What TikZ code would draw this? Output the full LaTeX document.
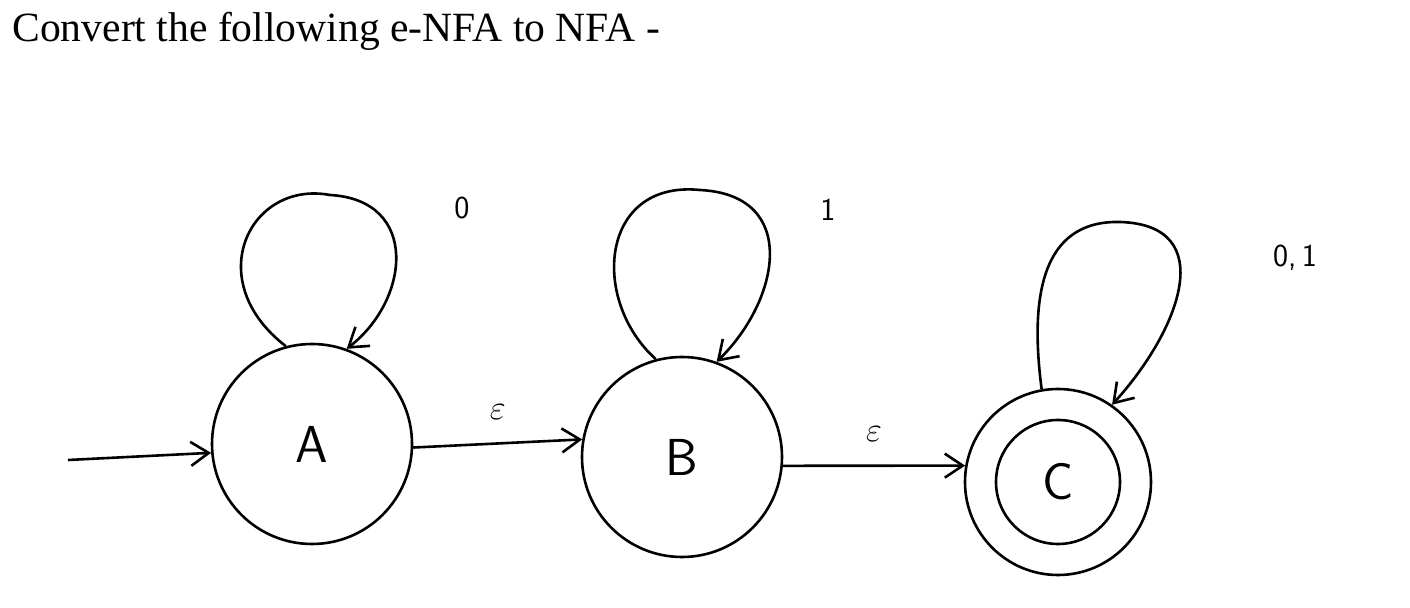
\documentclass[tikz,border=0pt]{standalone}
\usepackage{fontspec}
\setmainfont{Liberation Serif}
\usetikzlibrary{arrows.meta}
\begin{document}
\begin{tikzpicture}[x=0.5pt,y=-0.5pt,
  st/.style={circle,draw,line width=1.3pt,minimum size=100pt,inner sep=0pt,font=\fontsize{26}{30}\selectfont\sffamily},
  ed/.style={line width=1.3pt,-{Straight Barb[length=9pt,width=12pt]}},
  lab/.style={font=\fontsize{16}{18}\selectfont\sffamily}]
\useasboundingbox (0,0) rectangle (1410,608);
\node[anchor=north west,inner sep=0pt,font=\fontsize{20.8}{24}\selectfont] (title) at (12,12) {Convert the following e-NFA to NFA -};
\node[st] (A) at (312,444) {A};
\node[st] (B) at (682,457) {B};
\node[st,minimum size=93pt] (C) at (1058,482) {};
\node[circle,draw,line width=1.3pt,minimum size=62pt,inner sep=0pt,font=\fontsize{26}{30}\selectfont\sffamily] (Ci) at (C) {C};
\coordinate (s) at (68,460);
\draw[ed] (s) -- (A.185);
\draw[ed] (A.-2) -- node[lab,above=8pt] {$\varepsilon$} (B.170);
\draw[ed] (B.-5) -- node[lab,above=8pt] {$\varepsilon$} (C.170);
\draw[ed] (A.105) .. controls (200,280) and (250,180) .. (330,195) .. controls (420,200) and (410,300) .. (A.70);
\node[lab] (la) at (462,208) {0};
\draw[ed] (B.105) .. controls (590,300) and (600,180) .. (700,190) .. controls (800,195) and (780,300) .. (B.70);
\node[lab] (lb) at (828,210) {1};
\draw[ed] (C.100) .. controls (1030,300) and (1040,220) .. (1120,222) .. controls (1220,225) and (1180,330) .. (C.55);
\node[lab] (lc) at (1295,258) {0,\,1};
\end{tikzpicture}
\end{document}
